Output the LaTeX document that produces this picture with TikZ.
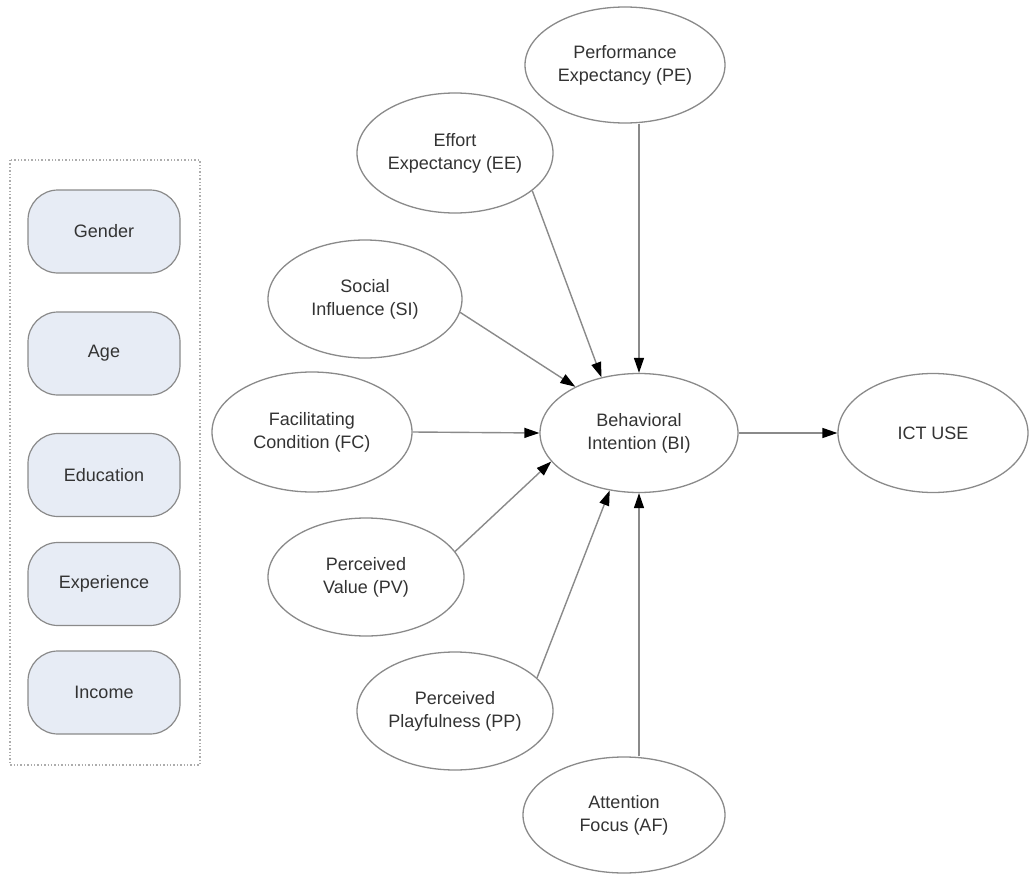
\documentclass[tikz,border=0pt]{standalone}
\usepackage{fontspec}
\setmainfont{Liberation Sans}
\usetikzlibrary{shapes.geometric,arrows.meta}
\definecolor{linegrey}{HTML}{8A8A8A}
\definecolor{textgrey}{HTML}{333333}
\definecolor{boxfill}{HTML}{E7ECF5}
\tikzset{
  construct/.style={ellipse, draw=linegrey, line width=1.3pt, fill=white,
    inner sep=0pt, align=center, text=textgrey,
    font=\fontsize{18}{23}\selectfont},
  moderator/.style={rectangle, rounded corners=30pt, draw=linegrey,
    line width=1.2pt, fill=boxfill, minimum width=152pt, minimum height=83pt,
    inner sep=0pt, text=textgrey, font=\fontsize{18}{22}\selectfont},
  path/.style={draw=linegrey, line width=1.4pt,
    -{Triangle[length=15pt,width=10pt,fill=black,color=black]}},
}
\begin{document}
\begin{tikzpicture}[x=1pt,y=-1pt]
\useasboundingbox (0,0) rectangle (1029,875);

% moderators panel
\draw[linegrey!70, dotted, line width=1.4pt] (10,160) rectangle (200,765);
\node[moderator] (gender) at (104,231.5) {Gender};
\node[moderator] (age)    at (104,353.5) {Age};
\node[moderator] (edu)    at (104,475)   {Education};
\node[moderator] (exp)    at (104,584)   {Experience};
\node[moderator] (inc)    at (104,692.5) {Income};

% constructs
\node[construct, minimum width=200pt, minimum height=116pt] (PE) at (625,65)  {Performance\\Expectancy (PE)};
\node[construct, minimum width=196pt, minimum height=120pt] (EE) at (455,153) {Effort\\Expectancy (EE)};
\node[construct, minimum width=194pt, minimum height=118pt] (SI) at (365,299) {Social\\Influence (SI)};
\node[construct, minimum width=200pt, minimum height=120pt] (FC) at (312,432) {Facilitating\\Condition (FC)};
\node[construct, minimum width=198pt, minimum height=119pt] (BI) at (639,433) {Behavioral\\Intention (BI)};
\node[construct, minimum width=190pt, minimum height=119pt] (ICT) at (933,433) {ICT USE};
\node[construct, minimum width=196pt, minimum height=118pt] (PV) at (366,577) {Perceived\\Value (PV)};
\node[construct, minimum width=196pt, minimum height=118pt] (PP) at (455,711) {Perceived\\Playfulness (PP)};
\node[construct, minimum width=202pt, minimum height=116pt] (AF) at (624,815) {Attention\\Focus (AF)};

% structural paths
\draw[path] (BI.center |- PE.south) -- (BI.north);
\draw[path] (EE.-26) -- (BI.124);
\draw[path] (SI.-8) -- (BI.144);
\draw[path] (FC.east) -- (BI.west);
\draw[path] (PV.16) -- (BI.198);
\draw[path] (PP.22) -- (BI.243);
\draw[path] (BI.center |- AF.north) -- (BI.south);
\draw[path] (BI.east) -- (ICT.west);
\end{tikzpicture}
\end{document}
